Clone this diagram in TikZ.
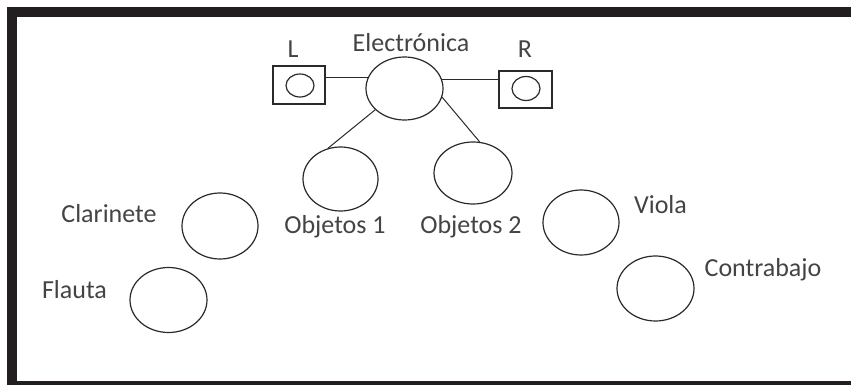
\documentclass[tikz,border=0pt]{standalone}
\usepackage{fontspec}
\setmainfont{Carlito}
\usetikzlibrary{shapes.geometric}
\definecolor{frame}{HTML}{231F20}
\definecolor{ink}{HTML}{2A2A2A}
\definecolor{txt}{HTML}{444444}
\tikzset{
  oval/.style={ellipse,draw=ink,line width=1.2pt,inner sep=0pt},
  box/.style={rectangle,draw=ink,line width=1.2pt,inner sep=0pt},
  lbl/.style={text=txt,inner sep=0pt,font=\fontsize{26}{30}\selectfont},
  wire/.style={draw=ink,line width=1pt}
}
\begin{document}
\begin{tikzpicture}[x=1pt,y=-1pt]
\useasboundingbox (0,0) rectangle (851,385);
\fill[white] (0,0) rectangle (851,385);
\clip (0,0) rectangle (851,385);
\draw[frame,line width=9.5pt] (12,12) rectangle (870,386);

% centre
\node[oval,minimum width=77pt,minimum height=63pt] (elec) at (404.5,88.5) {};
\node[box,minimum width=52pt,minimum height=38pt] (Lbox) at (299,85) {};
\node[oval,minimum width=28pt,minimum height=23pt] (Lin) at (300,85.5) {};
\node[box,minimum width=53pt,minimum height=37pt] (Rbox) at (525.5,89.5) {};
\node[oval,minimum width=28pt,minimum height=24pt] (Rin) at (526,88.5) {};
\node[lbl] (elecl) at (411,43) {Electrónica};
\node[lbl] (Ll) at (293,49) {L};
\node[lbl] (Rl) at (525,49) {R};

\node[oval,minimum width=75pt,minimum height=64pt] (obj1) at (340.5,179) {};
\node[oval,minimum width=78pt,minimum height=62pt] (obj2) at (473,173) {};
\node[lbl] (obj1l) at (335,227) {Objetos 1};
\node[lbl] (obj2l) at (471,227) {Objetos 2};

\draw[wire] (elec.164) -- (elec.164 -| Lbox.east);
\draw[wire] (elec.13) -- (elec.13 -| Rbox.west);
\draw[wire] (elec.216) -- (obj1.112);
\draw[wire] (elec.347) -- (obj2.78);

% instruments
\node[oval,minimum width=76pt,minimum height=66pt] (clar) at (220,226) {};
\node[lbl] (clarl) at (109,214) {Clarinete};
\node[oval,minimum width=77pt,minimum height=65pt] (flau) at (168.5,300) {};
\node[lbl] (flaul) at (74.5,290) {Flauta};
\node[oval,minimum width=76pt,minimum height=65pt] (viol) at (581,222.5) {};
\node[lbl] (violl) at (660.5,205) {Viola};
\node[oval,minimum width=77pt,minimum height=65pt] (cont) at (655.5,288.5) {};
\node[lbl] (contl) at (763,270) {Contrabajo};
\end{tikzpicture}
\end{document}
